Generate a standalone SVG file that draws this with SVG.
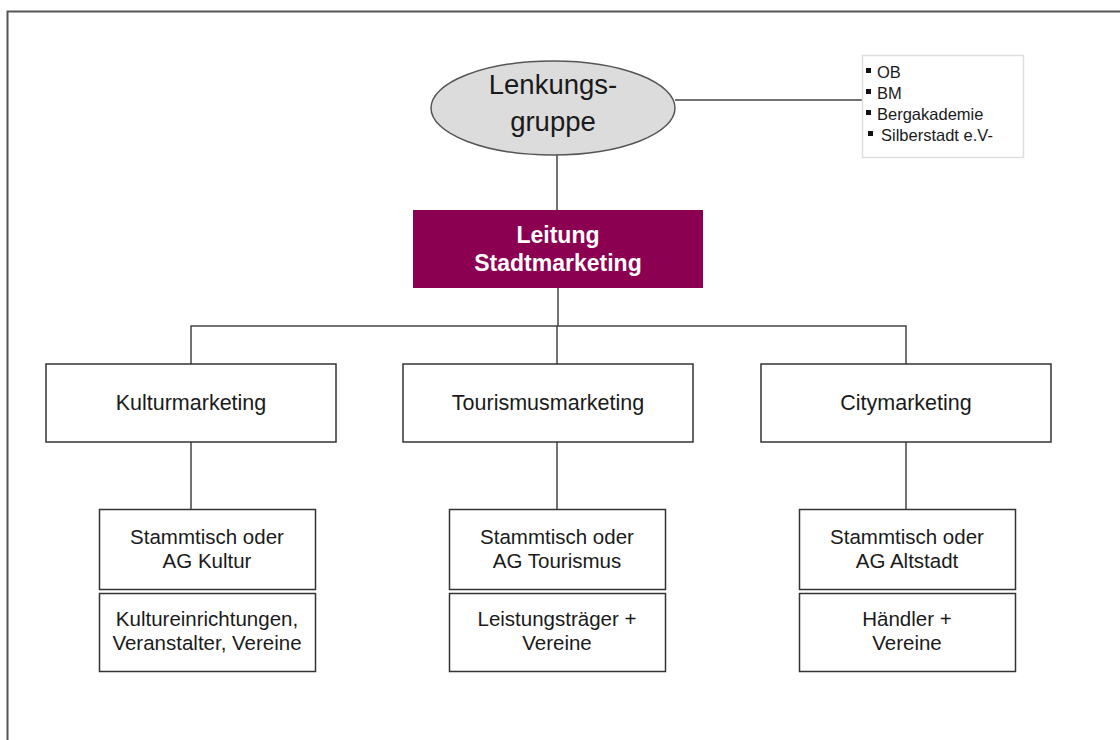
<svg xmlns="http://www.w3.org/2000/svg" width="1120" height="740" viewBox="0 0 1120 740">
<style>
.t{font-family:"Liberation Sans",Arial,sans-serif;fill:#1a1a1a;text-anchor:middle}
.box{fill:#fff;stroke:#333;stroke-width:1.5}
.ln{stroke:#444;stroke-width:1.5;fill:none}
.bl{font-family:"Liberation Sans",Arial,sans-serif;fill:#1a1a1a;font-size:16.5px}
.l1{font-size:21.5px}
.l2{font-size:20.5px}
</style>
<rect width="1120" height="740" fill="#fff"/>
<path d="M7.5 760 V11.5 H1130" fill="none" stroke="#555" stroke-width="2"/>
<g id="connectors">
<path class="ln" d="M675 100 H862"/>
<path class="ln" d="M557 155 V210"/>
<path class="ln" d="M558 288 V326" stroke-width="2"/>
<path class="ln" d="M191 364 V326 H906 V364"/>
<path class="ln" d="M557 326 V364"/>
<path class="ln" d="M191 442 V510"/>
<path class="ln" d="M557 442 V510"/>
<path class="ln" d="M906 442 V510"/>
</g>
<g id="lenkungsgruppe">
<ellipse cx="553" cy="108" rx="122" ry="47" fill="#dcdcdc" stroke="#555" stroke-width="1.5"/>
<text class="t" x="553" y="94" font-size="27.5">Lenkungs-</text>
<text class="t" x="553" y="131" font-size="27.5">gruppe</text>
</g>
<g id="mitglieder">
<rect x="862.5" y="55.5" width="161" height="102" fill="#fff" stroke="#ddd" stroke-width="1.5"/>
<rect x="866" y="68" width="5" height="5" fill="#111"/>
<rect x="866" y="89" width="5" height="5" fill="#111"/>
<rect x="866" y="110" width="5" height="5" fill="#111"/>
<rect x="868" y="131" width="5" height="5" fill="#111"/>
<text class="bl" x="877" y="78">OB</text>
<text class="bl" x="877" y="99">BM</text>
<text class="bl" x="877" y="120">Bergakademie</text>
<text class="bl" x="881" y="141">Silberstadt e.V-</text>
</g>
<g id="leitung">
<rect x="413" y="210" width="290" height="78" fill="#8c0052"/>
<text class="t" x="558" y="243" font-size="23" font-weight="bold" style="fill:#fff">Leitung</text>
<text class="t" x="558" y="271" font-size="23" font-weight="bold" style="fill:#fff">Stadtmarketing</text>
</g>
<g id="kulturmarketing">
<rect class="box" x="46" y="364" width="290" height="78"/>
<text class="t l1" x="191" y="410">Kulturmarketing</text>
</g>
<g id="tourismusmarketing">
<rect class="box" x="403" y="364" width="290" height="78"/>
<text class="t l1" x="548" y="410">Tourismusmarketing</text>
</g>
<g id="citymarketing">
<rect class="box" x="761" y="364" width="290" height="78"/>
<text class="t l1" x="906" y="410">Citymarketing</text>
</g>
<g id="ag-kultur">
<rect class="box" x="99.5" y="509.5" width="216" height="80"/>
<text class="t l2" x="207" y="544">Stammtisch oder</text>
<text class="t l2" x="207" y="568">AG Kultur</text>
</g>
<g id="kultur-akteure">
<rect class="box" x="99.5" y="593.5" width="216" height="78"/>
<text class="t l2" x="207" y="626">Kultureinrichtungen,</text>
<text class="t l2" x="207" y="650">Veranstalter, Vereine</text>
</g>
<g id="ag-tourismus">
<rect class="box" x="449.5" y="509.5" width="216" height="80"/>
<text class="t l2" x="557" y="544">Stammtisch oder</text>
<text class="t l2" x="557" y="568">AG Tourismus</text>
</g>
<g id="tourismus-akteure">
<rect class="box" x="449.5" y="593.5" width="216" height="78"/>
<text class="t l2" x="557" y="626">Leistungsträger +</text>
<text class="t l2" x="557" y="650">Vereine</text>
</g>
<g id="ag-altstadt">
<rect class="box" x="799.5" y="509.5" width="216" height="80"/>
<text class="t l2" x="907" y="544">Stammtisch oder</text>
<text class="t l2" x="907" y="568">AG Altstadt</text>
</g>
<g id="altstadt-akteure">
<rect class="box" x="799.5" y="593.5" width="216" height="78"/>
<text class="t l2" x="907" y="626">Händler +</text>
<text class="t l2" x="907" y="650">Vereine</text>
</g>
</svg>
